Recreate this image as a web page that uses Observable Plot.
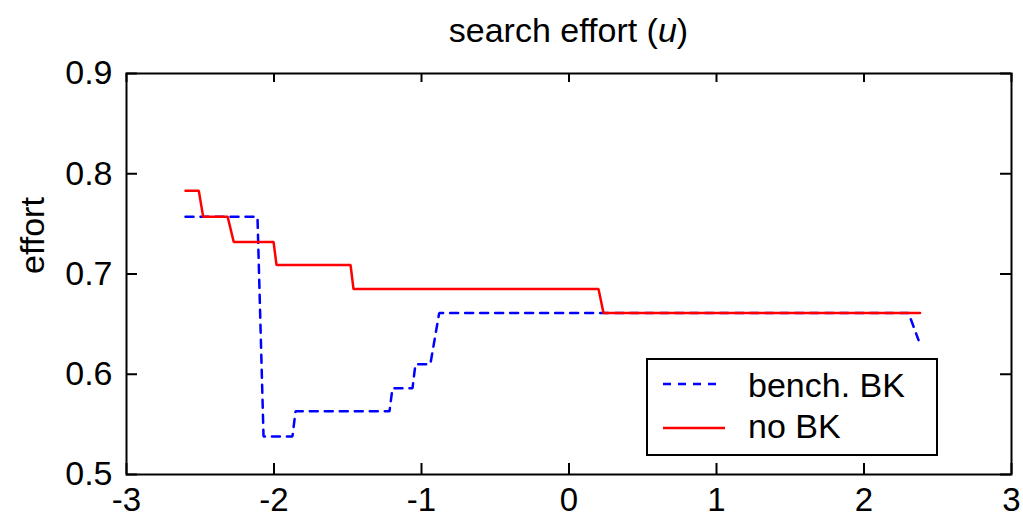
<!DOCTYPE html>
<html>
<head>
<meta charset="utf-8">
<script src="https://cdn.jsdelivr.net/npm/d3@7"></script>
<script src="https://cdn.jsdelivr.net/npm/@observablehq/plot@0.6"></script>
<style>
  html, body { margin: 0; padding: 0; background: #fff; }
  body { font-family: "Liberation Sans", Arial, Helvetica, sans-serif; color: #000; }
  #wrap { position: relative; width: 1023px; height: 520px; overflow: hidden; }
  #title {
    box-sizing: border-box; width: 1023px; height: 55px;
    padding: 13px 12px 0 126px; text-align: center;
    font-size: 34px; line-height: 1; white-space: nowrap;
  }
  #legend {
    position: absolute; left: 646px; top: 358px; width: 292px; height: 98px;
    box-sizing: border-box; border: 2px solid #000; background: #fff;
  }
  .lg-row { position: absolute; left: 0; width: 100%; height: 40px; }
  .lg-row svg { position: absolute; left: 15px; top: 0; }
  .lg-row span { position: absolute; left: 100px; top: 0; font-size: 34px; line-height: 40px; white-space: nowrap; }
</style>
</head>
<body>
<div id="wrap">
  <div id="title">search effort (<i>u</i>)</div>
  <div id="chart"></div>
  <div id="legend"></div>
</div>
<script>
// Search effort against u, with and without the benchmark BK
const benchX = [-2.6, -2.112, -2.071, -1.875, -1.854, -1.217, -1.197, -1.061, -1.041, -0.94, -0.88, 2.302, 2.37];
const benchY = [0.757, 0.757, 0.538, 0.538, 0.563, 0.563, 0.586, 0.586, 0.610, 0.610, 0.661, 0.661, 0.634];

const noBkX = [-2.6, -2.51, -2.48, -2.314, -2.273, -2.003, -1.983, -1.481, -1.461, 0.2, 0.234, 2.38];
const noBkY = [0.783, 0.783, 0.757, 0.757, 0.732, 0.732, 0.709, 0.709, 0.685, 0.685, 0.661, 0.661];

const seriesNames = ["bench. BK", "no BK"];
const xTicks = [-3, -2, -1, 0, 1, 2, 3];
const yTicks = [0.5, 0.6, 0.7, 0.8, 0.9];

const bench = benchX.map((x, i) => ({x, y: benchY[i]}));
const noBk = noBkX.map((x, i) => ({x, y: noBkY[i]}));

const W = 1023, H = 465;
const mL = 126, mR = 12, mT = 18, mB = 46;
const plotW = W - mL - mR, plotH = H - mT - mB;
const tickLen = 11;
const font = "'Liberation Sans', Arial, Helvetica, sans-serif";

const chart = Plot.plot({
  width: W,
  height: H,
  marginLeft: mL,
  marginRight: mR,
  marginTop: mT,
  marginBottom: mB,
  style: {fontFamily: font, fontSize: "34px", color: "#000", background: "#fff", overflow: "visible"},
  x: {domain: [-3, 3]},
  y: {domain: [0.5, 0.9]},
  marks: [
    Plot.axisX(xTicks, {tickSize: 0, tickPadding: 13, fontSize: 33, tickFormat: d => String(d), label: null}),
    Plot.axisY(yTicks, {tickSize: 0, tickPadding: 14, fontSize: 34, tickFormat: d3.format(".1f"), label: null}),
    Plot.text(["effort"], {text: d => d, frameAnchor: "left", rotate: -90, dx: -93, fontSize: 34}),
    // inward ticks on all four sides
    Plot.tickX(xTicks, {x: d => d, insetTop: plotH - tickLen, stroke: "#000", strokeWidth: 2}),
    Plot.tickX(xTicks, {x: d => d, insetBottom: plotH - 9, stroke: "#000", strokeWidth: 2}),
    Plot.tickY(yTicks, {y: d => d, insetRight: plotW - tickLen, stroke: "#000", strokeWidth: 2}),
    Plot.tickY(yTicks, {y: d => d, insetLeft: plotW - tickLen, stroke: "#000", strokeWidth: 2}),
    Plot.line(bench, {x: "x", y: "y", stroke: "#0000ff", strokeWidth: 2.5, strokeDasharray: "8,7", strokeLinejoin: "miter"}),
    Plot.line(noBk, {x: "x", y: "y", stroke: "#ff0000", strokeWidth: 2.5, strokeLinejoin: "miter"}),
    Plot.frame({stroke: "#000", strokeWidth: 2})
  ]
});
document.getElementById("chart").appendChild(chart);

// legend box
const legend = document.getElementById("legend");
const entries = [
  {name: seriesNames[0], color: "#0000ff", dash: "8,7", len: 57, top: 5, lineY: 19},
  {name: seriesNames[1], color: "#ff0000", dash: null, len: 62, top: 46, lineY: 22}
];
for (const e of entries) {
  const row = document.createElement("div");
  row.className = "lg-row";
  row.style.top = e.top + "px";
  const sw = d3.create("svg").attr("width", 70).attr("height", 40);
  sw.append("line")
    .attr("x1", 0).attr("x2", e.len)
    .attr("y1", e.lineY).attr("y2", e.lineY)
    .attr("stroke", e.color).attr("stroke-width", 2.5)
    .attr("stroke-dasharray", e.dash);
  row.appendChild(sw.node());
  const label = document.createElement("span");
  label.textContent = e.name;
  row.appendChild(label);
  legend.appendChild(row);
}
</script>
</body>
</html>
